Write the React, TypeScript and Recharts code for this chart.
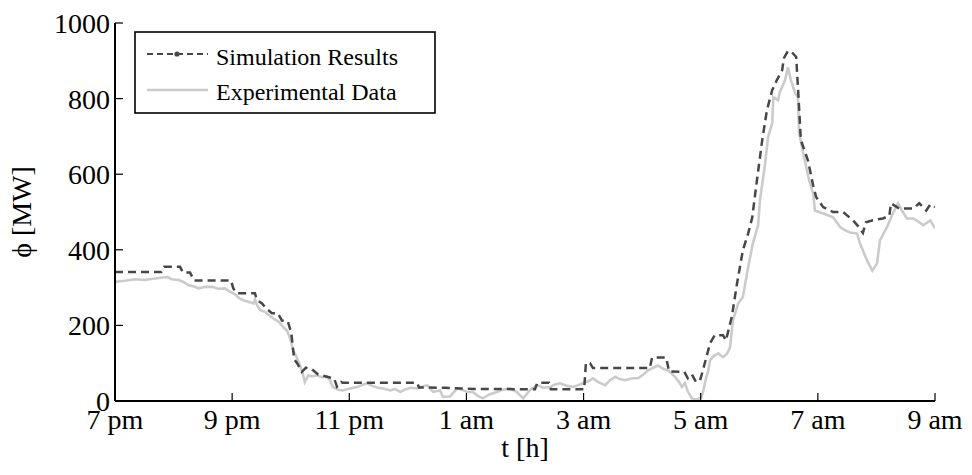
import React from 'react';
import { LineChart, Line, XAxis, YAxis } from 'recharts';

// Time axis: hours elapsed since 7 pm
const hourTicks = [0, 2, 4, 6, 8, 10, 12, 14];
const hourLabels = ['7 pm', '9 pm', '11 pm', '1 am', '3 am', '5 am', '7 am', '9 am'];
const powerTicks = [0, 200, 400, 600, 800, 1000];

// Simulation results (stepwise model output), hours since 7 pm / MW
const simHours = [
  0, 0.79, 0.84, 1.11, 1.16, 1.28, 1.35, 1.98, 2.02, 2.08, 2.39, 2.42, 2.51, 2.58, 2.68, 2.78,
  2.85, 2.95, 3.01, 3.06, 3.11, 3.19, 3.26, 3.36, 3.47, 3.67, 3.74, 3.79, 3.86, 3.89, 5.16, 5.19,
  5.63, 6.15, 7.17, 7.21, 7.41, 7.44, 8.01, 8.04, 8.11, 8.16, 9.13, 9.17, 9.41, 9.46, 9.72, 9.78,
  9.85, 9.92, 9.99, 10.07, 10.16, 10.24, 10.38, 10.43, 10.53, 10.62, 10.72, 10.81, 10.88, 10.96,
  11.05, 11.13, 11.22, 11.3, 11.39, 11.42, 11.49, 11.56, 11.63, 11.66, 11.71, 11.83, 11.92, 11.97,
  12.09, 12.26, 12.43, 12.6, 12.7, 12.77, 12.82, 12.94, 13.11, 13.22, 13.25, 13.39, 13.63, 13.73,
  13.85, 13.92, 14,
];
const simPower = [
  341, 341, 355, 355, 340, 340, 319, 319, 298, 285, 285, 268, 258, 245, 232, 232,
  213, 211, 180, 110, 100, 77, 88, 84, 70, 62, 60, 38, 50, 48, 48, 36,
  35, 32, 31, 48, 48, 31, 31, 100, 100, 87, 87, 115, 115, 78, 77, 60,
  70, 50, 55, 100, 153, 174, 174, 160, 222, 311, 399, 443, 486, 584,
  690, 769, 822, 849, 875, 907, 926, 922, 910, 830, 690, 637, 570, 540,
  513, 500, 500, 478, 460, 445, 473, 478, 483, 490, 523, 509, 509, 523,
  504, 520, 513,
];

// Measured data, hours since 7 pm / MW
const expHours = [
  0, 0.17, 0.34, 0.51, 0.68, 0.89, 0.97, 1.09, 1.18, 1.26, 1.35, 1.43, 1.54, 1.66, 1.76, 1.88,
  1.96, 2.05, 2.12, 2.2, 2.29, 2.36, 2.39, 2.42, 2.48, 2.56, 2.63, 2.71, 2.8, 2.87, 2.94, 2.99,
  3.04, 3.09, 3.16, 3.21, 3.24, 3.3, 3.36, 3.45, 3.53, 3.62, 3.67, 3.72, 3.81, 3.89, 4.01, 4.13,
  4.22, 4.3, 4.39, 4.49, 4.58, 4.7, 4.78, 4.87, 4.95, 5.04, 5.16, 5.24, 5.33, 5.38, 5.43, 5.55,
  5.6, 5.72, 5.84, 5.92, 6.01, 6.11, 6.18, 6.28, 6.4, 6.52, 6.62, 6.74, 6.85, 6.97, 7.09, 7.21,
  7.31, 7.43, 7.51, 7.6, 7.72, 7.82, 7.91, 7.99, 8.08, 8.16, 8.25, 8.37, 8.45, 8.54, 8.62, 8.71,
  8.83, 8.93, 9.02, 9.1, 9.19, 9.27, 9.36, 9.44, 9.51, 9.56, 9.63, 9.68, 9.73, 9.78, 9.85, 9.9,
  9.95, 10.01, 10.04, 10.09, 10.13, 10.16, 10.23, 10.3, 10.38, 10.45, 10.5, 10.55, 10.64, 10.72,
  10.81, 10.89, 10.98, 11.01, 11.06, 11.1, 11.15, 11.22, 11.24, 11.32, 11.35, 11.44, 11.49, 11.54,
  11.61, 11.66, 11.68, 11.75, 11.85, 11.92, 11.95, 12.09, 12.26, 12.38, 12.46, 12.55, 12.67, 12.72,
  12.79, 12.84, 12.93, 13.01, 13.06, 13.18, 13.28, 13.37, 13.45, 13.52, 13.63, 13.71, 13.8, 13.92,
  14,
];
const expPower = [
  315, 318, 322, 320, 324, 328, 322, 320, 314, 306, 303, 298, 302, 302, 297, 298,
  289, 282, 272, 266, 262, 258, 268, 255, 240, 236, 227, 218, 209, 196, 185, 166,
  134, 120, 94, 70, 50, 68, 65, 68, 63, 64, 55, 37, 30, 28, 33, 37,
  42, 47, 40, 35, 33, 28, 32, 24, 30, 35, 33, 38, 42, 33, 24, 28,
  11, 12, 33, 30, 24, 24, 15, 7, 18, 24, 30, 33, 25, 7, 30, 42,
  35, 37, 44, 47, 40, 37, 42, 47, 52, 60, 50, 42, 55, 64, 58, 55,
  60, 60, 70, 81, 88, 94, 85, 81, 72, 64, 50, 37, 47, 25, 7, 4,
  5, 10, 24, 60, 81, 108, 120, 126, 116, 125, 142, 213, 258, 275,
  354, 417, 465, 530, 584, 629, 698, 735, 804, 796, 817, 849, 883, 849,
  815, 804, 709, 656, 584, 549, 504, 496, 486, 460, 452, 446, 443, 417,
  390, 372, 345, 364, 425, 460, 496, 523, 500, 483, 483, 475, 465, 478,
  457,
];

const simData = simHours.map((t, i) => ({ t, p: simPower[i] }));
const expData = expHours.map((t, i) => ({ t, p: expPower[i] }));

const SIM_COLOR = '#474747';
const EXP_COLOR = '#cbcbcb';
const FONT = '"Liberation Serif", "Times New Roman", serif';
const tickStyle = { fontFamily: FONT, fontSize: 28, fill: '#000' };
const axisStroke = { stroke: '#000', strokeWidth: 2 };

const xLabel = () => (
  <text x={525} y={457} textAnchor="middle" fontFamily={FONT} fontSize={28} fill="#000">
    t [h]
  </text>
);

const yLabel = () => (
  <text
    x={31}
    y={212}
    transform="rotate(-90 31 212)"
    textAnchor="middle"
    fontFamily={FONT}
    fontSize={28}
    fill="#000"
  >
    ϕ [MW]
  </text>
);

function LegendBox() {
  return (
    <svg width={302} height={83} style={{ position: 'absolute', left: 134, top: 31 }}>
      <rect x={1} y={1} width={300} height={81} fill="#fff" stroke="#000" strokeWidth={1.6} />
      <line x1={13} y1={23} x2={74} y2={23} stroke={SIM_COLOR} strokeWidth={2.2} strokeDasharray="6 4" />
      <circle cx={43} cy={23} r={2.6} fill={SIM_COLOR} />
      <text x={82} y={34} fontFamily={FONT} fontSize={24} fill="#000">
        Simulation Results
      </text>
      <line x1={13} y1={59} x2={74} y2={59} stroke={EXP_COLOR} strokeWidth={2.5} />
      <text x={82} y={69} fontFamily={FONT} fontSize={24} fill="#000">
        Experimental Data
      </text>
    </svg>
  );
}

export default function App() {
  return (
    <div style={{ position: 'absolute', left: 0, top: 0, width: 972, height: 475, background: '#fff' }}>
      <LineChart width={972} height={475} margin={{ top: 23, right: 37, bottom: 0, left: 0 }}>
        <XAxis
          xAxisId="bottom"
          dataKey="t"
          type="number"
          domain={[0, 14]}
          ticks={hourTicks}
          interval={0}
          allowDataOverflow
          height={74}
          tickSize={-8}
          tickMargin={16}
          tickFormatter={(v: number) => hourLabels[hourTicks.indexOf(v)]}
          tick={tickStyle}
          axisLine={axisStroke}
          tickLine={{ stroke: '#000', strokeWidth: 1.2 }}
          label={xLabel}
        />
        <XAxis
          xAxisId="top"
          orientation="top"
          dataKey="t"
          type="number"
          domain={[0, 14]}
          ticks={hourTicks}
          interval={0}
          height={0}
          tickSize={-8}
          tickFormatter={() => ''}
          axisLine={axisStroke}
          tickLine={{ stroke: '#000', strokeWidth: 1.2 }}
        />
        <YAxis
          yAxisId="left"
          type="number"
          domain={[0, 1000]}
          ticks={powerTicks}
          interval={0}
          allowDataOverflow
          width={115}
          tickSize={-8}
          tickMargin={13}
          tick={tickStyle}
          axisLine={axisStroke}
          tickLine={{ stroke: '#000', strokeWidth: 1.2 }}
          label={yLabel}
        />
        <YAxis
          yAxisId="right"
          orientation="right"
          type="number"
          domain={[0, 1000]}
          ticks={powerTicks}
          interval={0}
          width={0}
          tickSize={-8}
          tickFormatter={() => ''}
          axisLine={axisStroke}
          tickLine={{ stroke: '#000', strokeWidth: 1.2 }}
        />
        <Line
          xAxisId="bottom"
          yAxisId="left"
          data={expData}
          dataKey="p"
          type="linear"
          stroke={EXP_COLOR}
          strokeWidth={2.6}
          dot={false}
          isAnimationActive={false}
        />
        <Line
          xAxisId="bottom"
          yAxisId="left"
          data={simData}
          dataKey="p"
          type="linear"
          stroke={SIM_COLOR}
          strokeWidth={2.5}
          strokeDasharray="8 5"
          dot={false}
          isAnimationActive={false}
        />
      </LineChart>
      <LegendBox />
    </div>
  );
}
